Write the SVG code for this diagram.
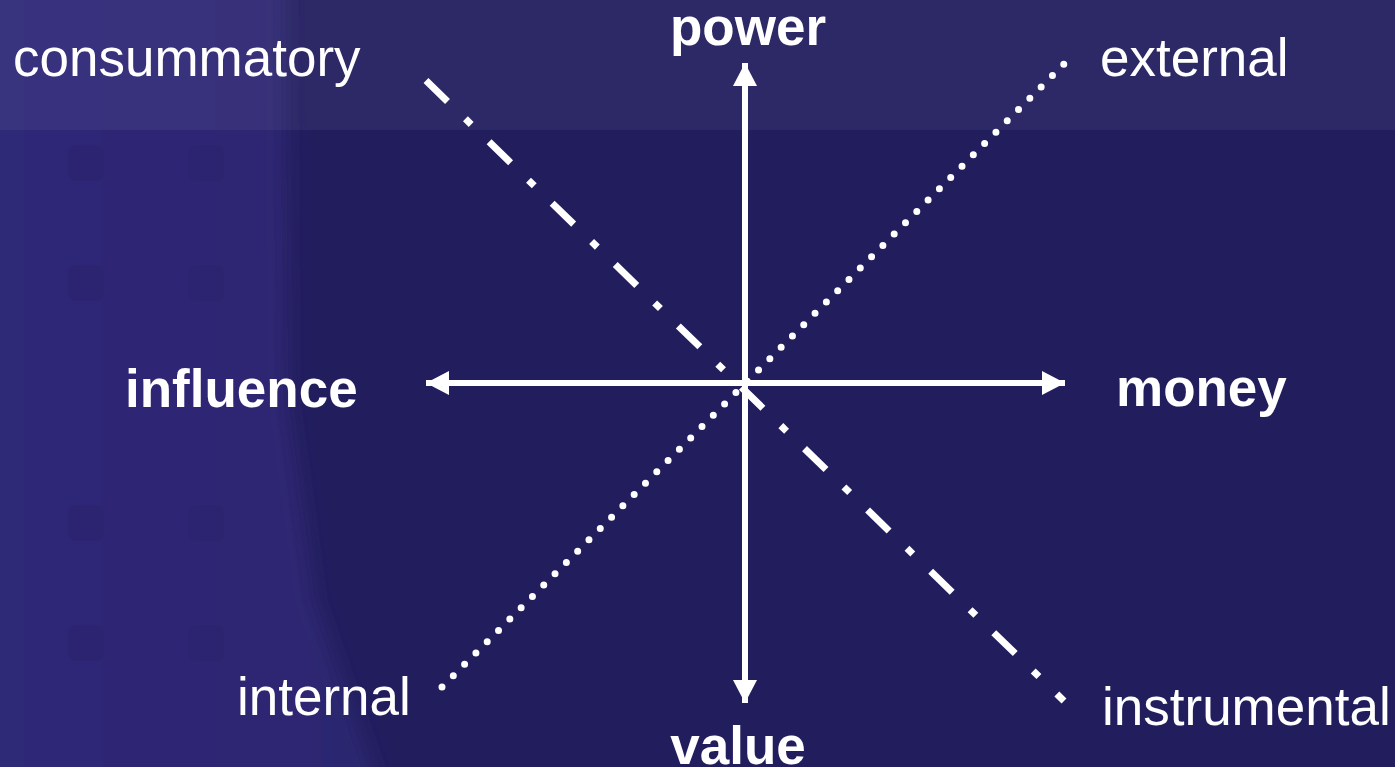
<svg xmlns="http://www.w3.org/2000/svg" width="1395" height="767" viewBox="0 0 1395 767">
<style>
.lbl{font-family:"Liberation Sans",Arial,sans-serif;font-size:53px;fill:#ffffff}
.b{font-weight:bold}
.axis{stroke:#ffffff;stroke-width:6;fill:none}
.dashdot{stroke:#ffffff;stroke-width:7;fill:none;stroke-dasharray:30 25 8 25;stroke-linecap:butt}
.dotted{stroke:#ffffff;stroke-width:7;fill:none;stroke-dasharray:0 16;stroke-linecap:round}
.sq{fill:#000000;opacity:0.035}
</style>
<defs>
<marker id="ah" markerUnits="userSpaceOnUse" markerWidth="24" markerHeight="24" refX="23" refY="12" orient="auto-start-reverse" viewBox="0 0 24 24">
<path d="M0,0 L23,12 L0,24 z" fill="#ffffff"/>
</marker>
<linearGradient id="lg" x1="0" y1="0" x2="1" y2="0">
<stop offset="0" stop-color="#2f2978"/>
<stop offset="0.8" stop-color="#2d2672"/>
<stop offset="1" stop-color="#2b256e"/>
</linearGradient>
<filter id="bl" x="-0.2" y="-0.2" width="1.4" height="1.4"><feGaussianBlur stdDeviation="10"/></filter>
</defs>
<g id="background">
<rect x="0" y="0" width="1395" height="767" fill="#221e5e"/>
<path d="M-40,-40 L285,-40 L288,400 L315,600 L385,800 L-40,800 z" fill="url(#lg)" filter="url(#bl)"/>
<g>
<rect class="sq" x="68" y="145" width="36" height="36" rx="8"/>
<rect class="sq" x="188" y="145" width="36" height="36" rx="8"/>
<rect class="sq" x="68" y="265" width="36" height="36" rx="8"/>
<rect class="sq" x="188" y="265" width="36" height="36" rx="8"/>
<rect class="sq" x="68" y="505" width="36" height="36" rx="8"/>
<rect class="sq" x="188" y="505" width="36" height="36" rx="8"/>
<rect class="sq" x="68" y="625" width="36" height="36" rx="8"/>
<rect class="sq" x="188" y="625" width="36" height="36" rx="8"/>
</g>
<rect x="0" y="0" width="1395" height="130" fill="#ffffff" opacity="0.05"/>
</g>
<g id="connectors">
<line class="axis" x1="745" y1="63" x2="745" y2="703" marker-start="url(#ah)" marker-end="url(#ah)"/>
<line class="axis" x1="426" y1="383" x2="1065" y2="383" marker-start="url(#ah)" marker-end="url(#ah)"/>
<line class="dashdot" x1="426" y1="80.5" x2="1064" y2="701"/>
<line class="dotted" x1="442" y1="687" x2="1064" y2="64"/>
</g>
<g id="node-power"><text class="lbl b" x="748" y="45" text-anchor="middle">power</text></g>
<g id="node-value"><text class="lbl b" x="738" y="764" text-anchor="middle">value</text></g>
<g id="node-influence"><text class="lbl b" x="125" y="407">influence</text></g>
<g id="node-money"><text class="lbl b" x="1116" y="406">money</text></g>
<g id="node-consummatory"><text class="lbl" x="13" y="76">consummatory</text></g>
<g id="node-external"><text class="lbl" x="1100" y="76">external</text></g>
<g id="node-internal"><text class="lbl" x="237" y="715">internal</text></g>
<g id="node-instrumental"><text class="lbl" x="1102" y="725">instrumental</text></g>
</svg>
